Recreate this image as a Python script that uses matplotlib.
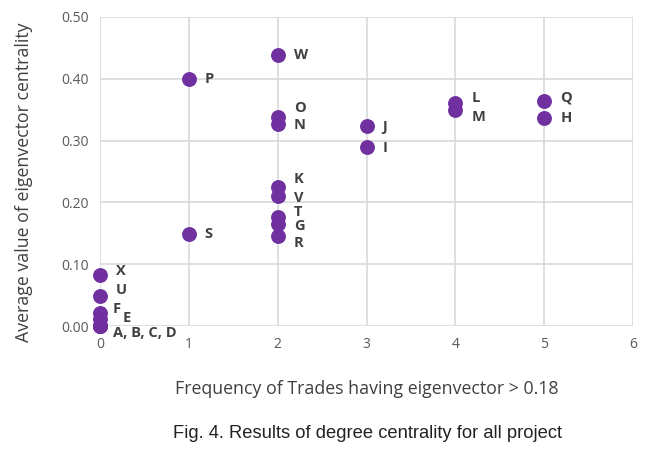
import matplotlib
matplotlib.use("Agg")
import matplotlib.pyplot as plt
from matplotlib.ticker import FormatStrFormatter

# Data
labels = ["A", "B", "C", "D", "E", "F", "U", "X", "P", "S",
          "W", "O", "N", "K", "V", "T", "G", "R", "J", "I", "L", "M", "Q", "H"]
freq = [0, 0, 0, 0, 0, 0, 0, 0, 1, 1,
        2, 2, 2, 2, 2, 2, 2, 2, 3, 3, 4, 4, 5, 5]
centrality = [0.0, 0.0, 0.0, 0.0, 0.011, 0.021, 0.049, 0.083, 0.400, 0.149,
              0.439, 0.338, 0.327, 0.225, 0.210, 0.176, 0.165, 0.146,
              0.324, 0.290, 0.361, 0.350, 0.364, 0.337]
x_ticks = [0, 1, 2, 3, 4, 5, 6]
y_ticks = [0.0, 0.1, 0.2, 0.3, 0.4, 0.5]

# label text and pixel offsets (dx, dy) for annotation placement
label_text = {"A": "A, B, C, D", "B": "", "C": "", "D": ""}
offsets = {"A": (13, -7), "E": (23, 1), "F": (13, 4), "U": (16, 6), "X": (16, 4),
           "P": (16, 0), "S": (16, 0), "W": (16, 0), "O": (16, 9), "N": (16, -1),
           "K": (16, 8), "V": (16, -2), "T": (16, 5), "G": (16, -2), "R": (16, -7),
           "J": (16, -1), "I": (16, -1), "L": (16, 5), "M": (16, -7),
           "Q": (16, 4), "H": (16, 0)}

fig = plt.figure(figsize=(6.56, 4.5), dpi=100)
ax = fig.add_axes([100/656, 1-326/450, 533/656, 309/450])

purple = "#7030A0"
ax.scatter(freq, centrality, s=115, color=purple, zorder=3, clip_on=False, linewidths=0)

for lab, xv, yv in zip(labels, freq, centrality):
    txt = label_text.get(lab, lab)
    if not txt:
        continue
    dx, dy = offsets[lab]
    ax.annotate(txt, (xv, yv), xytext=(dx, dy), textcoords="offset pixels",
                ha="left", va="center", fontsize=10.5, fontweight="bold",
                color="#404040", zorder=4, family="Open Sans")

ax.set_xlim(0, 6)
ax.set_ylim(0, 0.5)
ax.set_xticks(x_ticks)
ax.set_yticks(y_ticks)
ax.yaxis.set_major_formatter(FormatStrFormatter("%.2f"))
ax.grid(True, color="#d9d9d9", linewidth=1.2, zorder=0)
ax.set_axisbelow(True)
for sp in ax.spines.values():
    sp.set_visible(False)
ax.tick_params(length=0, labelsize=10, labelcolor="#595959", pad=8)
for t in ax.get_xticklabels() + ax.get_yticklabels():
    t.set_family("Open Sans")

ax.set_xlabel("Frequency of Trades having eigenvector > 0.18", fontsize=12.8,
              color="#404040", labelpad=20, family="Open Sans")
ax.set_ylabel("Average value of eigenvector centrality", fontsize=12.8,
              color="#404040", family="Open Sans")
ax.yaxis.set_label_coords(-0.125, 0.466)

fig.text(0.56, 1 - 433/450, "Fig. 4. Results of degree centrality for all project",
         ha="center", va="center", fontsize=13.2, color="#222222", family="Liberation Sans")

fig.savefig("out.png", dpi=100)
